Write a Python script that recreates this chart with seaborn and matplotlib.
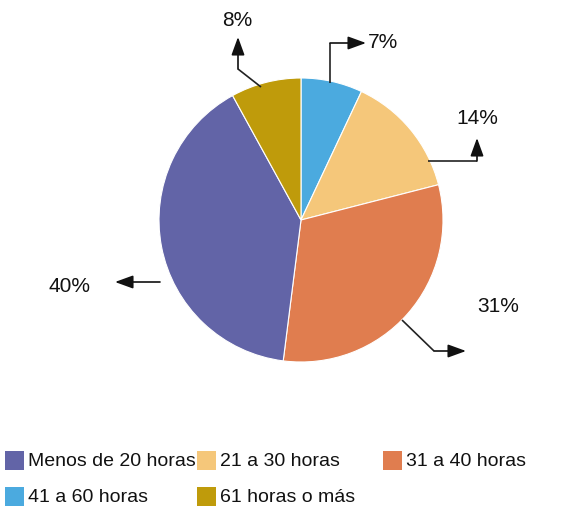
import matplotlib
matplotlib.use("Agg")
import matplotlib.pyplot as plt
import seaborn as sns
from matplotlib.patches import Rectangle

categorias = ["41 a 60 horas", "21 a 30 horas", "31 a 40 horas", "Menos de 20 horas", "61 horas o más"]
porcentajes = [7, 14, 31, 40, 8]
colores = ["#4BAADF", "#F5C77A", "#E07D4F", "#6264A7", "#BF9B0B"]
orden_leyenda = ["Menos de 20 horas", "21 a 30 horas", "31 a 40 horas", "41 a 60 horas", "61 horas o más"]

sns.set_style("white")
plt.rcParams["font.family"] = ["Liberation Sans Narrow", "Liberation Sans", "DejaVu Sans"]

W, H = 569, 508
fig = plt.figure(figsize=(W / 100, H / 100), dpi=100)
ax = fig.add_axes([0, 0, 1, 1])

def Y(py):
    return H - py

ax.pie(porcentajes, colors=colores, startangle=90, counterclock=False,
       center=(301, Y(220)), radius=142, frame=True,
       wedgeprops=dict(edgecolor="white", linewidth=0.8))
ax.set_xlim(0, W)
ax.set_ylim(0, H)
ax.set_aspect("equal")
ax.axis("off")

# polylines leading to the labels: points in pixel coords, last point is arrow tip
rutas = {
    "41 a 60 horas": [(330, 83), (330, 43), (366, 43)],
    "21 a 30 horas": [(428, 161), (477, 161), (477, 138)],
    "31 a 40 horas": [(402, 320), (434, 351), (466, 351)],
    "Menos de 20 horas": [(160, 282), (115, 282)],
    "61 horas o más": [(261, 87), (238, 69), (238, 37)],
}
etiquetas_pos = {
    "41 a 60 horas": (383, 42),
    "21 a 30 horas": (477, 118),
    "31 a 40 horas": (498, 307),
    "Menos de 20 horas": (70, 287),
    "61 horas o más": (237, 21),
}

for cat, val in zip(categorias, porcentajes):
    pts = rutas[cat]
    xs = [p[0] for p in pts[:-1]]
    ys = [Y(p[1]) for p in pts[:-1]]
    ax.plot(xs, ys, color="#222222", lw=1.2, solid_capstyle="butt")
    ax.annotate("", xy=(pts[-1][0], Y(pts[-1][1])), xytext=(pts[-2][0], Y(pts[-2][1])),
                arrowprops=dict(arrowstyle="-|>,head_length=1.1,head_width=0.4",
                                color="#111111", lw=1.2, shrinkA=0, shrinkB=0))
    tx, ty = etiquetas_pos[cat]
    ax.text(tx, Y(ty), f"{val}%", ha="center", va="center", fontsize=15, color="#111111")

# legend
col_x = [5, 197, 383]
filas_y = [461, 497]
color_de = dict(zip(categorias, colores))
for i, cat in enumerate(orden_leyenda):
    fila, col = divmod(i, 3)
    x0 = col_x[col]
    y0 = filas_y[fila]
    ax.add_patch(Rectangle((x0, Y(y0) - 9), 19, 19, facecolor=color_de[cat], edgecolor="none"))
    ax.text(x0 + 23, Y(y0), cat, ha="left", va="center", fontsize=14, color="#111111")

fig.savefig("out.png", dpi=100)
